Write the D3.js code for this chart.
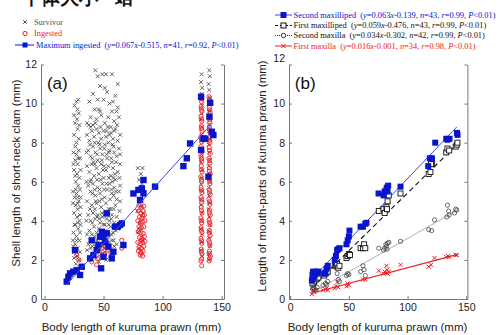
<!DOCTYPE html>
<html>
<head>
<meta charset="utf-8">
<script src="https://cdn.jsdelivr.net/npm/d3@7"></script>
<style>
  body { margin: 0; background: #fff; }
  svg { display: block; }
  text { font-family: "Liberation Sans", Arial, sans-serif; }
  .leg text { font-family: "Liberation Serif", "Times New Roman", serif; font-size: 8.3px; }
  .leg.b text { font-size: 8.4px; }
</style>
</head>
<body>
<div id="app"></div>
<script>
// ---- panel (a) data: [body length (mm), shell length (mm)]
const survivor = [
  [27,10.1],[28.5,10.2],[25.5,9.9],[29,9.5],[27.5,9.2],[26,9.0],[28,8.7],[29.5,8.9],[24.5,7.5],[27,7.4],
  [29,7.6],[26,7.1],[28,6.9],[30,7.2],[25,6.6],[27.5,6.4],[29.5,6.2],[26.5,6.0],[28.5,5.8],[24,5.5],
  [27,5.4],[30,5.6],[25.5,5.2],[29,5.0],[26.5,4.8],[28,4.6],[30.5,4.7],[25,4.4],[27.5,4.2],[29.5,4.0],
  [26,3.8],[28.5,3.6],[24.5,3.4],[27,3.2],[29.5,3.0],[26,2.8],[28,2.6],[25,2.4],[27.5,2.2],[29,2.0],
  [26.5,1.8],[24,3.0],[30,3.4],[28,4.9],[26,6.3],[29,8.2],[27,8.0],[25,8.4],[28,5.2],[30,4.3],
  [25,9.4],[28,9.7],[24.5,6.9],[30.5,6.6],[24,4.9],[30.5,5.2],[25.5,3.8],[30.5,3.8],[24.5,2.7],[30,2.4],
  [26,7.8],[28.5,7.2],[26.5,5.6],[28,3.9],[27,3.0],[25,2.1],
  [41,10.5],[43,11.7],[45,11.4],[47,10.9],[49,11.5],[52,11.5],[57,11.5],[50,10.2],[53,10.6],[55,10.0],
  [58,10.1],[62,9.8],[60,10.4],[46,9.7],[38,10.1],[39,9.3],[44,9.2],[48,9.4],[51,9.0],[54,9.3],
  [59,9.1],[63,9.3],[36,9.0],[56,8.8],[41,8.9],[62,11.0],
  [36,8.4],[38,8.1],[40,8.6],[42,8.3],[44,8.7],[46,8.5],[48,8.2],[50,8.6],[52,8.3],[54,8.0],
  [56,8.5],[58,8.2],[60,8.7],[62,8.1],[64,8.4],[37,7.6],[39,7.3],[41,7.8],[43,7.5],[45,7.1],
  [47,7.7],[49,7.4],[51,7.9],[53,7.2],[55,7.6],[57,7.0],[59,7.5],[61,7.3],[63,7.7],[36,6.8],
  [38,6.5],[40,6.9],[42,6.3],[44,6.7],[46,6.4],[48,6.9],[50,6.2],[52,6.6],[54,6.8],[56,6.3],
  [58,6.7],[60,6.1],[62,6.5],[64,6.9],[37,5.8],[39,5.5],[41,5.9],[43,5.3],[45,5.7],[47,5.4],
  [49,5.9],[51,5.2],[53,5.6],[55,5.9],[57,5.4],[59,5.7],[61,5.1],[63,5.5],[36,5.0],[40,4.8],
  [44,4.9],[48,4.7],[52,4.9],[56,4.6],[60,4.8],[64,5.0],[37,4.3],[39,4.0],[41,4.4],[43,4.1],
  [45,4.3],[47,3.9],[49,4.2],[51,3.8],[53,4.4],[55,4.0],[57,4.3],[59,3.9],[61,4.2],[38,3.5],
  [40,3.3],[42,3.7],[44,3.4],[46,3.6],[48,3.2],[50,3.8],[52,3.5],[54,3.3],[56,3.7],[58,3.4],
  [62,3.6],[37,2.8],[39,2.6],[41,3.0],[43,2.7],[45,2.9],[47,2.5],[49,2.8],[51,2.4],[53,2.9],
  [55,2.6],[57,3.0],[59,2.7],[40,2.2],[44,2.1],[48,2.3],[52,2.0],[56,2.2],[46,1.9],
  [37.5,8.9],[41.5,7.0],[45.5,8.0],[49.5,6.6],[53.5,8.8],[57.5,6.0],[61.5,8.9],[39.5,6.1],[43.5,5.0],[47.5,6.1],
  [51.5,4.5],[55.5,5.1],[59.5,6.4],[63.5,6.2],[42.5,9.7],[47.5,8.8],[52.5,7.4],[57.5,7.9],[44.5,3.0],[50.5,3.1],
  [54.5,4.6],[58.5,5.3],[35.5,7.5],[35.5,6.0],[35.5,4.0],[63.5,4.5],[46.5,5.0],[50.5,5.6],[42.5,5.6],
  [38.5,7.9],[40.5,7.2],[42.5,8.0],[44.5,7.4],[46.5,7.9],[48.5,7.1],[50.5,7.7],[52.5,8.6],[54.5,7.5],[56.5,7.2],
  [58.5,7.8],[60.5,7.0],[38.5,6.0],[40.5,5.4],[42.5,6.9],[44.5,6.1],[46.5,5.6],[48.5,5.1],[50.5,6.8],[52.5,5.9],
  [54.5,6.2],[56.5,5.6],[58.5,6.2],[60.5,5.5],[38.5,4.6],[40.5,3.9],[42.5,4.6],[44.5,4.2],[46.5,4.1],[48.5,4.4],
  [50.5,4.3],[52.5,4.1],[54.5,3.8],[56.5,4.1],[58.5,4.6],[60.5,3.5],[38.5,3.0],[40.5,2.7],[42.5,3.2],[44.5,2.5],
  [46.5,3.1],[48.5,2.7],[50.5,2.6],[52.5,3.2],[54.5,2.9],[56.5,3.3],[58.5,3.0],[61,2.8],[39,8.8],[43,9.0],
  [47,9.6],[51,10.8],[55,8.4],[59,8.6],[45,10.2],[57,9.6],[61,9.6],[64,7.4],[64,5.8],[36,3.3],[36,2.5],
  [79,6.7],[81.5,6.4],[83,6.7],[80,6.1],[82.5,5.9],[79.5,5.6],[84,5.3],[80.5,5.0],[82,4.7],[78.5,4.5],
  [83.5,4.4],[81,3.9],[79,3.4],[83,3.0],[80,2.6],
  [133,11.5],[132.5,11.1],[133.5,10.8],[133,10.5],[132.5,10.2],[133.5,9.9],[133,9.5],[132.5,9.2],[133.5,8.8],[133,8.4],
  [132.5,8.1],[133.5,7.7],[133,7.3],[132.5,7.0],[133.5,6.6],[133,6.2],[132.5,5.9],[133.5,5.5],[133,5.1],[132.5,4.8],
  [133.5,4.4],[133,4.0],[132.5,3.6],[133.5,3.3],[133,2.9],[132.5,2.5],[133.5,2.2],
  [139.5,11.7],[140,11.4],[139,11.0],[139.5,10.7],[140,10.3],[139,10.0],[139.5,9.6],[140,9.3],[139,8.9],[139.5,8.6],
  [140,8.2],[139,7.9],[139.5,7.5],[140,7.1],[139,6.8],[139.5,6.4],[140,6.0],[139,5.7],[139.5,5.3],[140,4.9],
  [139,4.6],[139.5,4.2],[140,3.8],[139,3.5],[139.5,3.1],[140,2.7],[139,2.3],[139.5,2.0]
];

const ingested = [
  [27.3,2.25],[29,2.0],[40,1.9],[44.2,1.75],[45,2.05],[47,2.3],[49,2.6],[50,2.9],[51,2.3],[52,2.8],
  [54,2.5],[56,2.4],[57,2.2],[65.4,2.6],[65.4,3.0],
  [80,4.8],[82,4.7],[84,4.75],[79.5,4.5],[81.5,4.4],[83.5,4.5],[80.5,4.2],[82.5,4.15],[84.5,4.3],[79,4.0],
  [81,3.9],[83,3.95],[85,4.0],[80,3.7],[82,3.65],[84,3.7],[79.5,3.45],[81.5,3.4],[83.5,3.35],[80.5,3.15],
  [82.5,3.1],[84.5,3.2],[79,2.9],[81,2.85],[83,2.9],[85,2.95],[80,2.65],[82,2.6],[84,2.7],[79.5,2.45],
  [81.5,2.4],[83.5,2.45],[81,2.25],[83,2.2],[82,3.0],[80.5,3.55],[83,4.25],[82,2.35],
  [132.4,10.4],[133.1,10.1],[132.6,9.85],[133.3,9.6],[132.5,9.35],[133.2,9.1],[132.7,8.85],[133.4,8.6],[132.4,8.3],[133.1,8.05],
  [132.6,7.8],[133.3,7.55],[132.5,7.3],[133.2,7.05],[132.7,6.8],[133.4,6.5],[132.4,6.25],[133.1,6.0],[132.6,5.7],[133.3,5.45],
  [132.5,5.2],[133.2,4.95],[132.7,4.7],[133.4,4.4],[132.4,4.15],[133.1,3.9],[132.6,3.65],[133.3,3.4],[132.5,3.1],[133.2,2.85],
  [132.7,2.55],[133.4,2.3],[132.4,1.95],[133.1,1.7],
  [133.0,10.25],[132.8,9.72],[133.0,9.22],[132.9,8.72],[133.0,8.18],[132.8,7.68],[133.0,7.18],[132.9,6.62],[133.0,6.12],[132.8,5.58],
  [133.0,5.08],[132.9,4.55],[133.0,4.02],[132.8,3.52],[133.0,2.98],[132.9,2.42],[133.0,2.05],
  [139.3,10.35],[140.1,10.1],[139.6,9.8],[140.3,9.55],[139.2,9.3],[140.0,9.05],[139.7,8.8],[140.4,8.5],[139.3,8.25],[140.1,8.0],
  [139.6,7.75],[140.3,7.45],[139.2,7.2],[140.0,6.95],[139.7,6.7],[140.4,6.4],[139.3,6.15],[140.1,5.9],[139.6,5.6],[140.3,5.35],
  [139.2,5.1],[140.0,4.85],[139.7,4.55],[140.4,4.3],[139.3,4.05],[140.1,3.8],[139.6,3.5],[140.3,3.25],[139.2,3.0],[140.0,2.75],
  [139.7,2.45],[140.4,2.2],[139.5,1.95],
  [139.8,10.22],[139.7,9.68],[139.8,9.18],[139.6,8.66],[139.8,8.12],[139.7,7.6],[139.8,7.08],[139.6,6.55],[139.8,6.02],[139.7,5.48],
  [139.8,4.98],[139.6,4.42],[139.8,3.92],[139.7,3.38],[139.8,2.88],[139.6,2.32],[139.8,2.08]
];

const maxIngested = [
  [18.8,0.89],[20.2,1.14],[21.6,1.31],[24.4,1.4],[27.3,1.48],[30.1,1.23],[31.5,1.65],[25.8,2.5],[38.6,2.08],[41.4,2.25],
  [40,3.0],[44.2,2.5],[45.6,2.76],[47,3.19],[48.5,3.44],[49.9,3.2],[51.3,2.93],[52.7,3.36],[54.1,2.68],[52.7,4.38],
  [49.9,2.16],[47.9,1.57],[56.9,2.08],[58.3,2.42],[59.7,3.7],[66.8,2.76],[62,3.7],[64,3.79],[65.4,3.87],[75.3,5.4],
  [79.5,5.58],[80.9,5.07],[82.4,5.66],[83.8,5.41],[83.8,6.09],[93.6,5.75],[117.6,6.8],[120.5,7.2],[123.3,7.96],[132.6,7.62],
  [132.6,10.35],[134.6,8.22],[136,8.2],[138.8,6.26],[139.7,9.33],[140.3,10.04],[141.7,8.56],[143,8.39]
];
const fitA = [0.067, -0.515, 19, 142];

// ---- panel (b) data: [body length (mm), mouth-part length (mm)]
const secondMaxilliped = [
  [18.5,0.95],[19,1.25],[19.5,1.4],[20,1.1],[20.5,1.35],[21,1.2],[22,1.4],[23,1.3],[24,1.4],[29,1.3],
  [30,1.35],[31,1.55],[32,1.7],[38,2.0],[39,2.2],[40,2.5],[41,2.55],[42,2.6],[48,2.8],[49,3.0],
  [50,3.2],[50.5,3.5],[60,3.7],[62,3.7],[64,3.85],[65,3.9],[75.3,5.4],[79.6,5.3],[80.5,5.5],[82,5.6],
  [82.4,5.7],[83,5.5],[83.5,5.8],[94,5.75],[117.6,6.8],[119,7.2],[120.8,7.2],[123.6,8.0],[133,8.2],[134,8.15],
  [135.8,8.2],[142.1,8.5],[142.6,8.4]
];
const firstMaxilliped = [
  [19,0.8],[19.5,1.0],[20,1.2],[20.5,0.9],[21,1.1],[22,1.0],[23,1.05],[24,1.1],[29,1.2],[30,1.3],
  [31,1.35],[32,1.4],[38,1.7],[39,1.75],[40,1.8],[41,1.6],[42,1.7],[48,2.1],[49,2.2],[50,2.3],
  [51,2.25],[60,2.6],[62,2.6],[63,2.8],[64,2.6],[75.5,4.5],[79.5,4.6],[80.5,4.4],[82,4.7],[82.5,4.6],
  [83,5.0],[84,5.3],[94,5.4],[118,6.4],[119.5,6.5],[121,6.9],[120,6.9],[133,7.5],[134,7.7],[135.5,7.6],
  [141,7.8],[142,7.9],[142.5,8.0]
];
const secondMaxilla = [
  [19,0.5],[19.5,0.6],[20,0.7],[20.5,0.55],[21,0.8],[22,0.45],[23,0.6],[28,0.7],[30,0.8],[31,0.75],
  [32,0.9],[38,1.7],[39,1.6],[40,1.3],[41,1.0],[42,0.9],[48,1.2],[49,1.3],[50,1.25],[60,1.4],
  [62,1.7],[63,1.5],[64,1.2],[75.5,2.6],[79.5,2.5],[80.5,2.6],[81.5,2.8],[82,2.7],[82.5,2.55],[83,2.85],
  [84,2.9],[94,2.95],[118,3.55],[120.5,3.5],[123,4.05],[133.5,4.2],[134,4.8],[135,4.5],[135.5,4.3],[141,4.6],
  [142,4.55],[140,4.4]
];
const firstMaxilla = [
  [18.5,0.25],[19.5,0.4],[20.5,0.35],[22,0.45],[28,0.45],[30,0.5],[31,0.55],[32,0.45],[38,0.55],[39,0.65],
  [40,0.85],[41,0.6],[48,0.65],[49,0.8],[50,0.7],[62,1.0],[64,1.0],[75.5,1.45],[79.5,1.3],[80.5,1.4],
  [81.5,1.35],[82,1.7],[82.5,1.5],[83,1.3],[84,1.4],[94,1.75],[118,1.65],[120,1.75],[123,2.1],[133,2.15],
  [134.5,2.2],[135.5,2.15],[141,2.25],[142,2.25]
];

const namesB = ["Second maxilliped", "First maxilliped", "Second maxilla", "First maxilla"];
const slopesB = [0.063, 0.059, 0.034, 0.016];
const interceptsB = [-0.139, -0.476, -0.302, -0.001];
const countsB = [43, 43, 42, 34];
const corrB = [0.99, 0.99, 0.99, 0.98];
const fitRangeB = [19, 142];

const yTicks = [0, 2, 4, 6, 8, 10, 12];
const xTicks = [0, 50, 100, 150];

const BLUE = "#0a14cc";
const LINEBLUE = "#3a48e0";
const RED = "#ee1c24";
const GRAY = "#505050";
const AXIS = "#777";

const svg = d3.select("#app").append("svg").attr("width", 499).attr("height", 335);

// heading of the page, cut off at the top like in the source
svg.append("text")
  .attr("x", 22).attr("y", 3.5)
  .attr("font-family", "Noto Sans CJK SC")
  .attr("font-size", 19).attr("font-weight", "bold")
  .attr("fill", "#111")
  .text("个体大小 · 蛤");

const y = d3.scaleLinear().domain([0, 12]).range([299, 64.5]);
const xa = d3.scaleLinear().domain([-3, 152]).range([41, 224]);
const xb = d3.scaleLinear().domain([-1, 151]).range([289, 467.4]);

function frame(x, label, ylabel, ylx, xlx) {
  const g = svg.append("g");
  g.append("g").attr("transform", `translate(0,${y.range()[0]})`)
    .call(d3.axisBottom(x).tickValues(xTicks).tickSize(-3).tickSizeOuter(0).tickPadding(5));
  const left = g.append("g").attr("transform", `translate(${x.range()[0]},0)`)
    .call(d3.axisLeft(y).tickValues(yTicks).tickSize(-3).tickSizeOuter(0).tickPadding(4));
  g.append("g").attr("transform", `translate(${x.range()[1]},0)`)
    .call(d3.axisRight(y).tickValues(yTicks).tickSize(-3).tickSizeOuter(0).tickFormat(""));
  g.selectAll(".domain, .tick line").attr("stroke", AXIS);
  g.selectAll(".tick text").attr("font-size", 10.5).attr("fill", "#222")
    .attr("font-family", "Liberation Sans, Arial, sans-serif");
  // the "12" label of panel (b) sits a little higher in the source
  if (label === "(b)") left.selectAll(".tick text").filter((d) => d === 12).attr("y", -6);

  g.append("text").attr("x", x(label === "(a)" ? 2 : 4)).attr("y", 89)
    .attr("font-size", 17).attr("fill", "#111").text(label);
  g.append("text").attr("x", xlx).attr("y", 331).attr("text-anchor", "middle")
    .attr("font-size", 11.5).attr("fill", "#222").text("Body length of kuruma prawn (mm)");
  g.append("text").attr("transform", `translate(${ylx},${label === "(a)" ? 173 : 176}) rotate(-90)`)
    .attr("text-anchor", "middle").attr("dy", "0.35em")
    .attr("font-size", 11.5).attr("fill", "#222").text(ylabel);
  return g;
}

const ga = frame(xa, "(a)", "Shell length of short-neck clam (mm)", 16, 131.5);
const gb = frame(xb, "(b)", "Length of mouth-parts of kuruma prawn (mm)", 262, 377.5);

const cross = (cx, cy, s) => `M${cx - s},${cy - s}L${cx + s},${cy + s}M${cx - s},${cy + s}L${cx + s},${cy - s}`;

// ---- panel (a) marks
ga.append("g").selectAll("path").data(survivor).join("path")
  .attr("d", (d) => cross(xa(d[0]), y(d[1]), 1.9))
  .attr("stroke", GRAY).attr("stroke-width", 0.9).attr("fill", "none");

ga.append("g").selectAll("circle").data(ingested).join("circle")
  .attr("cx", (d) => xa(d[0])).attr("cy", (d) => y(d[1])).attr("r", 2.1)
  .attr("fill", "none").attr("stroke", RED).attr("stroke-width", 0.9);

ga.append("g").selectAll("rect").data(maxIngested).join("rect")
  .attr("x", (d) => xa(d[0]) - 3.2).attr("y", (d) => y(d[1]) - 3.2)
  .attr("width", 6.4).attr("height", 6.4).attr("fill", BLUE);

ga.append("line")
  .attr("x1", xa(fitA[2])).attr("y1", y(fitA[0] * fitA[2] + fitA[1]))
  .attr("x2", xa(fitA[3])).attr("y2", y(fitA[0] * fitA[3] + fitA[1]))
  .attr("stroke", LINEBLUE).attr("stroke-width", 1);

// ---- panel (b) marks
const lineStyles = [
  { color: LINEBLUE, dash: null, w: 1 },
  { color: "#111", dash: "5,3.5", w: 1.1 },
  { color: "#333", dash: "1,1.3", w: 0.9 },
  { color: RED, dash: null, w: 1.1 }
];

slopesB.forEach((a, i) => {
  const b = interceptsB[i];
  gb.append("line")
    .attr("x1", xb(fitRangeB[0])).attr("y1", y(a * fitRangeB[0] + b))
    .attr("x2", xb(fitRangeB[1])).attr("y2", y(a * fitRangeB[1] + b))
    .attr("stroke", lineStyles[i].color).attr("stroke-width", lineStyles[i].w)
    .attr("stroke-dasharray", lineStyles[i].dash);
});

gb.append("g").selectAll("path").data(firstMaxilla).join("path")
  .attr("d", (d) => cross(xb(d[0]), y(d[1]), 2))
  .attr("stroke", RED).attr("stroke-width", 1).attr("fill", "none");

gb.append("g").selectAll("circle").data(secondMaxilla).join("circle")
  .attr("cx", (d) => xb(d[0])).attr("cy", (d) => y(d[1])).attr("r", 2.1)
  .attr("fill", "none").attr("stroke", "#444").attr("stroke-width", 0.8);

gb.append("g").selectAll("rect").data(firstMaxilliped).join("rect")
  .attr("x", (d) => xb(d[0]) - 2.5).attr("y", (d) => y(d[1]) - 2.5)
  .attr("width", 5).attr("height", 5)
  .attr("fill", "#fff").attr("stroke", "#111").attr("stroke-width", 0.9);

gb.append("g").selectAll("rect").data(secondMaxilliped).join("rect")
  .attr("x", (d) => xb(d[0]) - 3).attr("y", (d) => y(d[1]) - 3)
  .attr("width", 6).attr("height", 6).attr("fill", BLUE);

// ---- legends
const eqSegments = (a, b, n, r) => [
  ["y", true], [`=${a.toFixed(3)}`, false], ["x", true],
  [`${b < 0 ? "-" : "+"}${Math.abs(b).toFixed(3)}, `, false], ["n", true], [`=${n}, `, false],
  ["r", true], [`=${r.toFixed(2)}, `, false], ["P", true], ["<0.01)", false]
];

function legendText(g, x, yy, color, name, segs) {
  const t = g.append("text").attr("x", x).attr("y", yy).attr("dy", "0.35em").attr("fill", color)
    .attr("xml:space", "preserve");
  t.append("tspan").text(name);
  if (!segs) return;
  t.append("tspan").text("  (");
  segs.forEach((s) => t.append("tspan").attr("font-style", s[1] ? "italic" : null).text(s[0]));
}

const la = svg.append("g").attr("class", "leg");
la.append("path").attr("d", cross(25, 22, 1.8)).attr("stroke", GRAY).attr("stroke-width", 1).attr("fill", "none");
legendText(la, 34, 22, GRAY, "Survivor");
la.append("circle").attr("cx", 25).attr("cy", 33.5).attr("r", 2.1).attr("fill", "none").attr("stroke", RED);
legendText(la, 34, 33.5, RED, "Ingested");
la.append("line").attr("x1", 15).attr("x2", 34).attr("y1", 45).attr("y2", 45).attr("stroke", BLUE).attr("stroke-width", 1);
la.append("rect").attr("x", 22.5).attr("y", 42.5).attr("width", 5).attr("height", 5).attr("fill", BLUE);
legendText(la, 36, 45, BLUE, "Maximum ingested", eqSegments(fitA[0], fitA[1], 41, 0.92));

const lb = svg.append("g").attr("class", "leg b");
const rowsB = [15, 25.5, 35.5, 46];
const textColorsB = [BLUE, "#111", "#111", RED];
namesB.forEach((name, i) => {
  const yy = rowsB[i];
  lb.append("line").attr("x1", 275).attr("x2", 292).attr("y1", yy).attr("y2", yy)
    .attr("stroke", lineStyles[i].color).attr("stroke-width", 1)
    .attr("stroke-dasharray", i === 1 ? "3,2" : i === 2 ? "1,1" : null);
  if (i === 0) lb.append("rect").attr("x", 280.5).attr("y", yy - 3).attr("width", 6).attr("height", 6).attr("fill", BLUE);
  if (i === 1) lb.append("rect").attr("x", 281).attr("y", yy - 2.5).attr("width", 5).attr("height", 5)
    .attr("fill", "#fff").attr("stroke", "#111");
  if (i === 2) lb.append("circle").attr("cx", 283.5).attr("cy", yy).attr("r", 2.2).attr("fill", "#fff").attr("stroke", "#333");
  if (i === 3) lb.append("path").attr("d", cross(283.5, yy, 2)).attr("stroke", RED).attr("fill", "none");
  legendText(lb, 293.5, yy, textColorsB[i], name, eqSegments(slopesB[i], interceptsB[i], countsB[i], corrB[i]));
});
</script>
</body>
</html>
